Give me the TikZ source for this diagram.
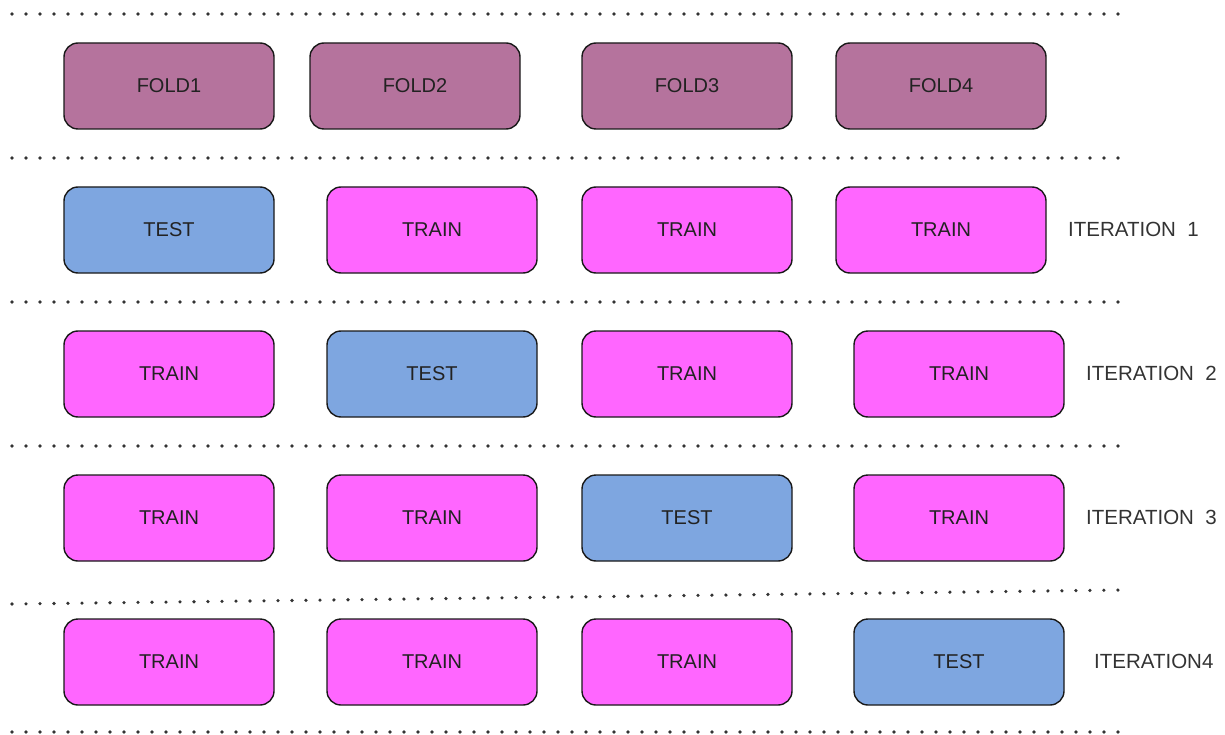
\documentclass[tikz,border=0pt]{standalone}
\usepackage{fontspec}
\setmainfont{Liberation Sans}
\definecolor{foldc}{HTML}{B5739D}
\definecolor{trainc}{HTML}{FF66FF}
\definecolor{testc}{HTML}{7EA6E0}
\definecolor{txtc}{HTML}{222222}
\definecolor{labc}{HTML}{333333}
\definecolor{dotc}{HTML}{333333}
\begin{document}
\begin{tikzpicture}[x=1pt,y=-1pt,
  cell/.style={draw=black!90, line width=1.4pt, rounded corners=14pt,
    minimum width=210pt, minimum height=86pt, inner sep=0pt,
    text=txtc, font=\fontsize{20}{20}\selectfont},
  foldbox/.style={cell, fill=foldc},
  trainbox/.style={cell, fill=trainc},
  testbox/.style={cell, fill=testc},
  itlabel/.style={anchor=west, inner sep=0pt, text=labc, font=\fontsize{20.5}{20.5}\selectfont},
  sep/.style={draw=dotc, line width=3.6pt, line cap=round, dash pattern=on 0pt off 14pt}]
\useasboundingbox (0,0) rectangle (1225,735);

% separators
\coordinate (s1a) at (12,14);   \coordinate (s1b) at (1124,14);
\coordinate (s2a) at (12,158);  \coordinate (s2b) at (1124,158);
\coordinate (s3a) at (12,302);  \coordinate (s3b) at (1124,302);
\coordinate (s4a) at (12,446);  \coordinate (s4b) at (1124,446);
\coordinate (s5a) at (12,604);  \coordinate (s5b) at (1124,590);
\coordinate (s6a) at (12,732);  \coordinate (s6b) at (1124,732);
\foreach \i in {1,...,6} \path[sep] (s\i a) -- (s\i b);

% folds
\node[foldbox] (f1) at (169,86) {FOLD1};
\node[foldbox] (f2) at (415,86) {FOLD2};
\node[foldbox] (f3) at (687,86) {FOLD3};
\node[foldbox] (f4) at (941,86) {FOLD4};

% iteration 1
\node[testbox]  (a1) at (169,230) {TEST};
\node[trainbox] (a2) at (432,230) {TRAIN};
\node[trainbox] (a3) at (687,230) {TRAIN};
\node[trainbox] (a4) at (941,230) {TRAIN};
\node[itlabel]  (la) at (1068,229) {ITERATION\ \ 1};

% iteration 2
\node[trainbox] (b1) at (169,374) {TRAIN};
\node[testbox]  (b2) at (432,374) {TEST};
\node[trainbox] (b3) at (687,374) {TRAIN};
\node[trainbox] (b4) at (959,374) {TRAIN};
\node[itlabel]  (lb) at (1086,373) {ITERATION\ \ 2};

% iteration 3
\node[trainbox] (c1) at (169,518) {TRAIN};
\node[trainbox] (c2) at (432,518) {TRAIN};
\node[testbox]  (c3) at (687,518) {TEST};
\node[trainbox] (c4) at (959,518) {TRAIN};
\node[itlabel]  (lc) at (1086,517) {ITERATION\ \ 3};

% iteration 4
\node[trainbox] (d1) at (169,662) {TRAIN};
\node[trainbox] (d2) at (432,662) {TRAIN};
\node[trainbox] (d3) at (687,662) {TRAIN};
\node[testbox]  (d4) at (959,662) {TEST};
\node[itlabel]  (ld) at (1094,661) {ITERATION4};
\end{tikzpicture}
\end{document}
